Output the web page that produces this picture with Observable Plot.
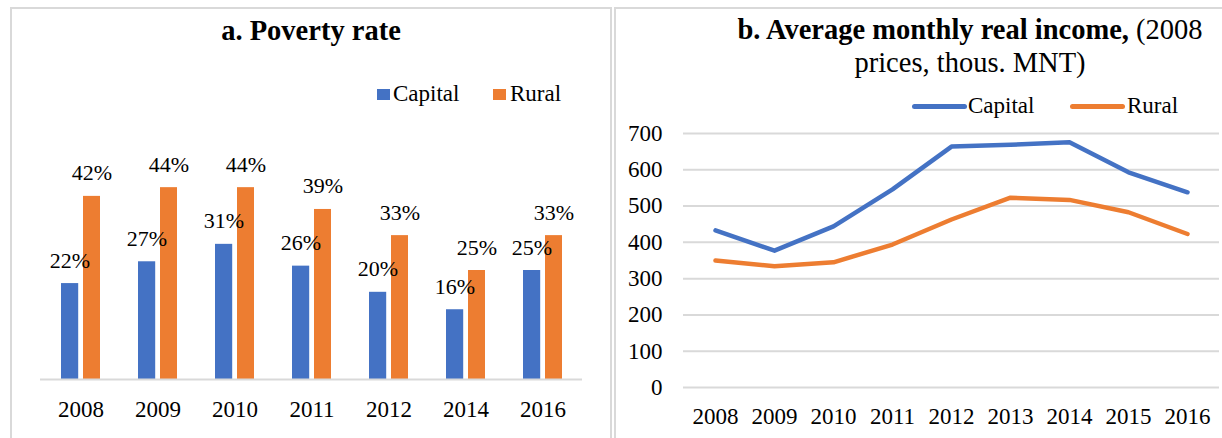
<!DOCTYPE html>
<html>
<head>
<meta charset="utf-8">
<script src="https://cdn.jsdelivr.net/npm/d3@7"></script>
<script src="https://cdn.jsdelivr.net/npm/@observablehq/plot@0.6"></script>
<style>
  html, body { margin: 0; padding: 0; background: #fff; }
  #root { position: relative; width: 1222px; height: 438px; overflow: hidden; background: #fff;
          font-family: "Liberation Serif", "Times New Roman", serif; color: #000; }
  .abs { position: absolute; }
  .border { position: absolute; background: #d9d9d9; }
  .title { position: absolute; font-family: "Liberation Serif", serif; font-size: 28.5px; text-align: center; white-space: nowrap; }
  .leg { position: absolute; font-family: "Liberation Serif", serif; font-size: 23px; line-height: 23px; white-space: nowrap; }
  svg text { font-family: "Liberation Serif", serif; }
</style>
</head>
<body>
<div id="root">
  <!-- panel borders -->
  <div class="border" style="left:10px; top:7px; width:2px; height:431px;"></div>
  <div class="border" style="left:10px; top:7px; width:602px; height:2px;"></div>
  <div class="border" style="left:610px; top:7px; width:2px; height:431px;"></div>
  <div class="border" style="left:614px; top:7px; width:2px; height:431px;"></div>
  <div class="border" style="left:614px; top:7px; width:608px; height:2px;"></div>

  <div id="left" class="abs" style="left:0; top:0;"></div>
  <div id="right" class="abs" style="left:611px; top:0;"></div>

  <div class="title" style="left:12px; width:598px; top:17px; line-height:28px;"><b>a. Poverty rate</b></div>
  <div class="title" style="left:670px; width:600px; top:13px; line-height:33px;"><b>b. Average monthly real income,</b> (2008<br>prices, thous. MNT)</div>

  <!-- left legend -->
  <div class="abs" style="left:377px; top:89px; width:13px; height:11px; background:#4472C4;"></div>
  <div class="leg" style="left:393px; top:82px;">Capital</div>
  <div class="abs" style="left:493px; top:89px; width:13px; height:11px; background:#ED7D31;"></div>
  <div class="leg" style="left:510px; top:82px;">Rural</div>

  <!-- right legend -->
  <div class="abs" style="left:912px; top:104px; width:55px; height:5px; border-radius:3px; background:#4472C4;"></div>
  <div class="leg" style="left:968px; top:94px;">Capital</div>
  <div class="abs" style="left:1070px; top:104px; width:55px; height:5px; border-radius:3px; background:#ED7D31;"></div>
  <div class="leg" style="left:1127px; top:94px;">Rural</div>
</div>
<script>
// ---- Data: panel a (poverty rate, %) ----
const povertyYears = ["2008", "2009", "2010", "2011", "2012", "2014", "2016"];
const povertyCapital = [22, 27, 31, 26, 20, 16, 25];
const povertyRural = [42, 44, 44, 39, 33, 25, 33];

// ---- Data: panel b (average monthly real income, thous. MNT) ----
const incomeYears = ["2008", "2009", "2010", "2011", "2012", "2013", "2014", "2015", "2016"];
const incomeCapital = [433, 377, 444, 546, 664, 669, 676, 593, 538];
const incomeRural = [350, 334, 345, 394, 463, 523, 517, 483, 423];
const incomeTicks = [0, 100, 200, 300, 400, 500, 600, 700];

const BLUE = "#4472C4", ORANGE = "#ED7D31", GRID = "#d9d9d9";
const SVG_STYLE = 'font-family: "Liberation Serif", "Times New Roman", serif; font-size: 23px; color: #000; background: transparent; overflow: visible;';

const capRows = povertyYears.map((y, i) => ({year: y, value: povertyCapital[i]}));
const rurRows = povertyYears.map((y, i) => ({year: y, value: povertyRural[i]}));

const left = Plot.plot({
  width: 611,
  height: 438,
  marginLeft: 40,
  marginRight: 29,
  marginTop: 161,
  marginBottom: 59,
  style: SVG_STYLE,
  x: {type: "band", domain: povertyYears, padding: 0, tickSize: 0, tickPadding: 21, label: null},
  y: {domain: [0, 50], axis: null},
  marks: [
    Plot.barY(capRows, {x: "year", y: "value", fill: BLUE, insetLeft: 19, insetRight: 40.8}),
    Plot.barY(rurRows, {x: "year", y: "value", fill: ORANGE, insetLeft: 41, insetRight: 19}),
    Plot.ruleY([0], {stroke: GRID, strokeWidth: 2}),
    Plot.text(capRows, {x: "year", y: "value", text: d => d.value + "%", dx: -11, dy: -16,
      lineAnchor: "bottom", fontSize: 22, fill: "#000"}),
    Plot.text(rurRows, {x: "year", y: "value", text: d => d.value + "%", dx: 11, dy: -16,
      lineAnchor: "bottom", fontSize: 22, fill: "#000"})
  ]
});
document.getElementById("left").appendChild(left);

const incRows = [];
incomeYears.forEach((y, i) => {
  incRows.push({year: y, series: "Capital", value: incomeCapital[i]});
  incRows.push({year: y, series: "Rural", value: incomeRural[i]});
});

const right = Plot.plot({
  width: 611,
  height: 438,
  marginLeft: 72,
  marginRight: 3,
  marginTop: 133,
  marginBottom: 51,
  style: SVG_STYLE,
  x: {type: "point", domain: incomeYears, padding: 0.5, tickSize: 0, tickPadding: 20, label: null},
  y: {domain: [0, 700], ticks: incomeTicks, tickSize: 0, tickPadding: 21, label: null},
  color: {domain: ["Capital", "Rural"], range: [BLUE, ORANGE]},
  marks: [
    Plot.ruleY(incomeTicks, {stroke: GRID, strokeWidth: 2}),
    Plot.line(incRows, {x: "year", y: "value", z: "series", stroke: "series", strokeWidth: 4.5,
      strokeLinecap: "round", strokeLinejoin: "round"})
  ]
});
document.getElementById("right").appendChild(right);
</script>
</body>
</html>
